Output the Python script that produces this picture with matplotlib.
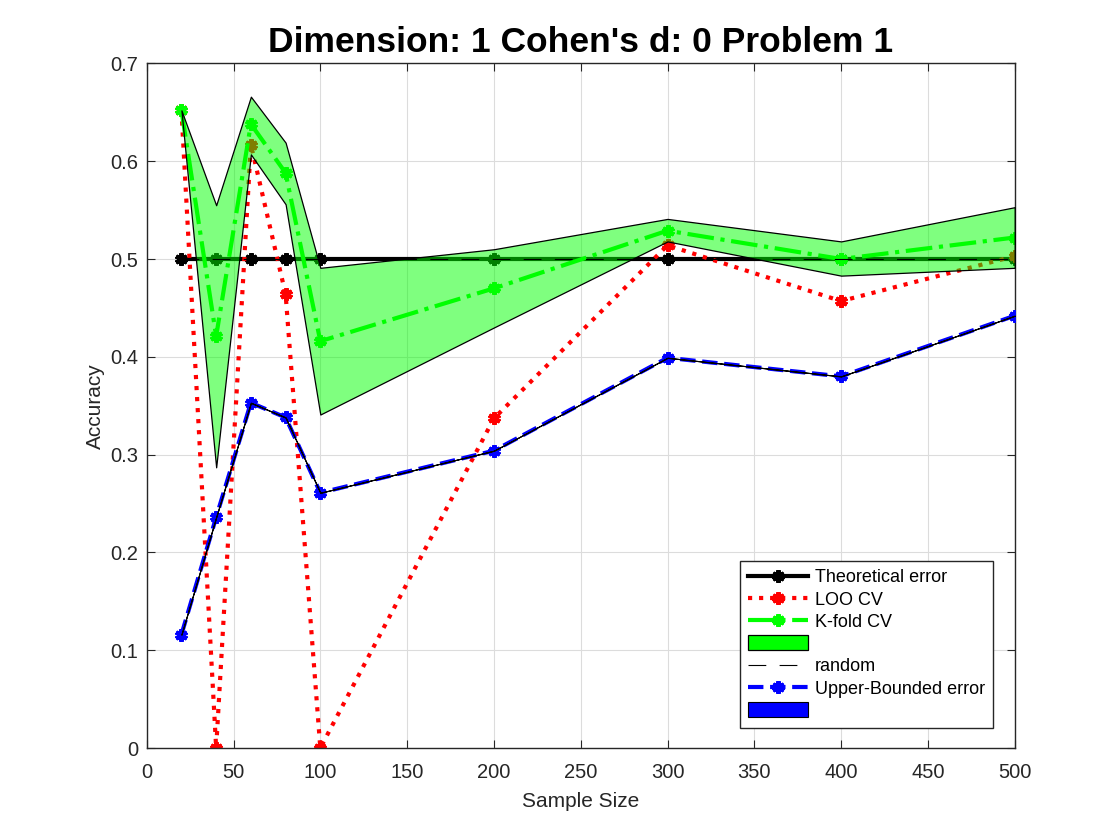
import matplotlib
matplotlib.use("Agg")
import matplotlib.pyplot as plt
import numpy as np

plt.rcParams['font.family'] = ['Liberation Sans', 'DejaVu Sans']

sample_size = [20, 40, 60, 80, 100, 200, 300, 400, 500]
theoretical = [0.5, 0.5, 0.5, 0.5, 0.5, 0.5, 0.5, 0.5, 0.5]
loo_cv = [0.652, 0.0, 0.617, 0.464, 0.0, 0.337, 0.514, 0.457, 0.503]
kfold_cv = [0.652, 0.421, 0.638, 0.588, 0.416, 0.470, 0.529, 0.500, 0.522]
kfold_upper = [0.652, 0.555, 0.666, 0.619, 0.491, 0.510, 0.541, 0.518, 0.553]
kfold_lower = [0.652, 0.287, 0.607, 0.556, 0.341, 0.430, 0.518, 0.483, 0.491]
random_line = [0.5, 0.5, 0.5, 0.5, 0.5, 0.5, 0.5, 0.5, 0.5]
upper_bounded = [0.116, 0.236, 0.353, 0.338, 0.261, 0.304, 0.399, 0.380, 0.442]

title = "Dimension: 1 Cohen's d: 0 Problem 1"
xticks = [0, 50, 100, 150, 200, 250, 300, 350, 400, 450, 500]
yticks = [0, 0.1, 0.2, 0.3, 0.4, 0.5, 0.6, 0.7]

fig = plt.figure(figsize=(11.2, 8.4), dpi=100)
ax = fig.add_axes([0.131, 0.1095, 0.775, 0.815])

ast = (6, 2, 0)
ax.plot(sample_size, theoretical, '-', color='black', lw=3, marker=ast, ms=9, mew=3,
        label='Theoretical error', zorder=2)
ax.plot(sample_size, loo_cv, ':', color='red', lw=3, marker=ast, ms=9, mew=3,
        label='LOO CV', zorder=2)
ax.plot(sample_size, kfold_cv, '-.', color='#00ff00', lw=3, marker=ast, ms=9, mew=3,
        label='K-fold CV', zorder=2)
ax.fill_between(sample_size, kfold_lower, kfold_upper, facecolor=(0, 1, 0, 0.5),
                edgecolor='black', lw=0.9, label=' ', zorder=3)
ax.plot(sample_size, random_line, '--', color='black', lw=0.8, dashes=(16, 12),
        label='random', zorder=4)
ax.plot(sample_size, upper_bounded, '--', color='#0000ff', lw=3, marker=ast, ms=9, mew=3,
        label='Upper-Bounded error', zorder=4)
ax.fill_between(sample_size, upper_bounded, upper_bounded, facecolor='#0000ff',
                edgecolor='black', lw=0.8, label='  ', zorder=5)

ax.set_xlim(0, 500)
ax.set_ylim(0, 0.7)
ax.set_xticks(xticks)
ax.set_yticks(yticks)
ax.set_yticklabels(['0', '0.1', '0.2', '0.3', '0.4', '0.5', '0.6', '0.7'])
ax.grid(True, color='#dcdcdc', lw=0.8)
ax.set_axisbelow(True)
ax.tick_params(labelsize=14.5, direction='in', length=6, color='#262626', labelcolor='#262626',
               top=True, right=True, labeltop=False, labelright=False)
ax.tick_params(axis='x', pad=11)
ax.tick_params(axis='y', pad=6)
for s in ax.spines.values():
    s.set_color('#262626')
    s.set_linewidth(1.0)
ax.set_xlabel('Sample Size', fontsize=15, color='#262626', labelpad=7)
ax.set_ylabel('Accuracy', fontsize=15, color='#262626', labelpad=4)
ax.set_title(title, fontsize=25.5, fontweight='bold', pad=8)

leg = ax.legend(loc='lower right', bbox_to_anchor=(0.9755, 0.0292), borderaxespad=0,
                fontsize=13, frameon=True, fancybox=False,
                edgecolor='#262626', framealpha=1, handlelength=3.3,
                handletextpad=0.4, labelspacing=0.25, handleheight=0.9, borderpad=0.45)
leg.get_frame().set_linewidth(1.0)
h = leg.legend_handles
h[3].set_facecolor('#00ff00')
h[3].set_edgecolor('black')
h[6].set_facecolor('#0000ff')
h[6].set_edgecolor('black')

fig.savefig('out.png', dpi=100)
